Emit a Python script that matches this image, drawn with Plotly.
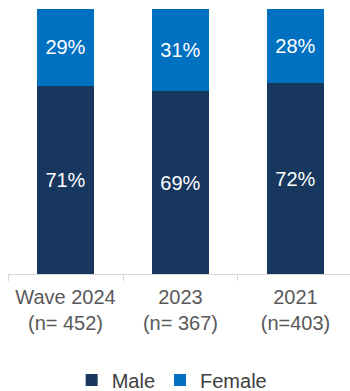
import plotly.graph_objects as go

# Survey waves and gender split (percent of respondents)
categories = ["Wave 2024<br>(n= 452)", "2023<br>(n= 367)", "2021<br>(n=403)"]
male = [71, 69, 72]
female = [29, 31, 28]

MALE_COLOR = "#17375E"
FEMALE_COLOR = "#0070C0"
FONT = "Arial, Liberation Sans, sans-serif"

fig = go.Figure()
fig.add_trace(go.Bar(
    name="Male", x=categories, y=male,
    marker=dict(color=MALE_COLOR, line=dict(width=0)),
    texttemplate="%{y}%", textposition="inside", insidetextanchor="middle",
    textfont=dict(color="white", size=20, family=FONT),
))
fig.add_trace(go.Bar(
    name="Female", x=categories, y=female,
    marker=dict(color=FEMALE_COLOR, line=dict(width=0)),
    texttemplate="%{y}%", textposition="inside", insidetextanchor="middle",
    textfont=dict(color="white", size=20, family=FONT),
))

fig.update_layout(
    barmode="stack",
    bargap=0.5,
    width=350, height=391,
    margin=dict(l=8, r=0, t=9, b=117, autoexpand=False),
    paper_bgcolor="white", plot_bgcolor="white",
    font=dict(family=FONT, color="#595959", size=20),
    showlegend=True,
    legend=dict(
        orientation="h", x=0.48, xanchor="center", y=-0.4, yanchor="middle",
        font=dict(size=20, color="#404040", family=FONT),
        itemwidth=30, tracegroupgap=0, traceorder="normal",
        bgcolor="rgba(0,0,0,0)",
    ),
)
fig.update_xaxes(
    range=[-0.5, 2.474],
    showline=True, linecolor="#d9d9d9", linewidth=1,
    ticks="outside", tickson="boundaries", ticklen=6, tickcolor="#d9d9d9",
    tickfont=dict(size=20, color="#595959", family=FONT),
    ticklabelstandoff=5,
    showgrid=False, zeroline=False,
)
fig.update_yaxes(range=[0, 100], visible=False, showgrid=False, zeroline=False)

fig.write_html("out.html")
